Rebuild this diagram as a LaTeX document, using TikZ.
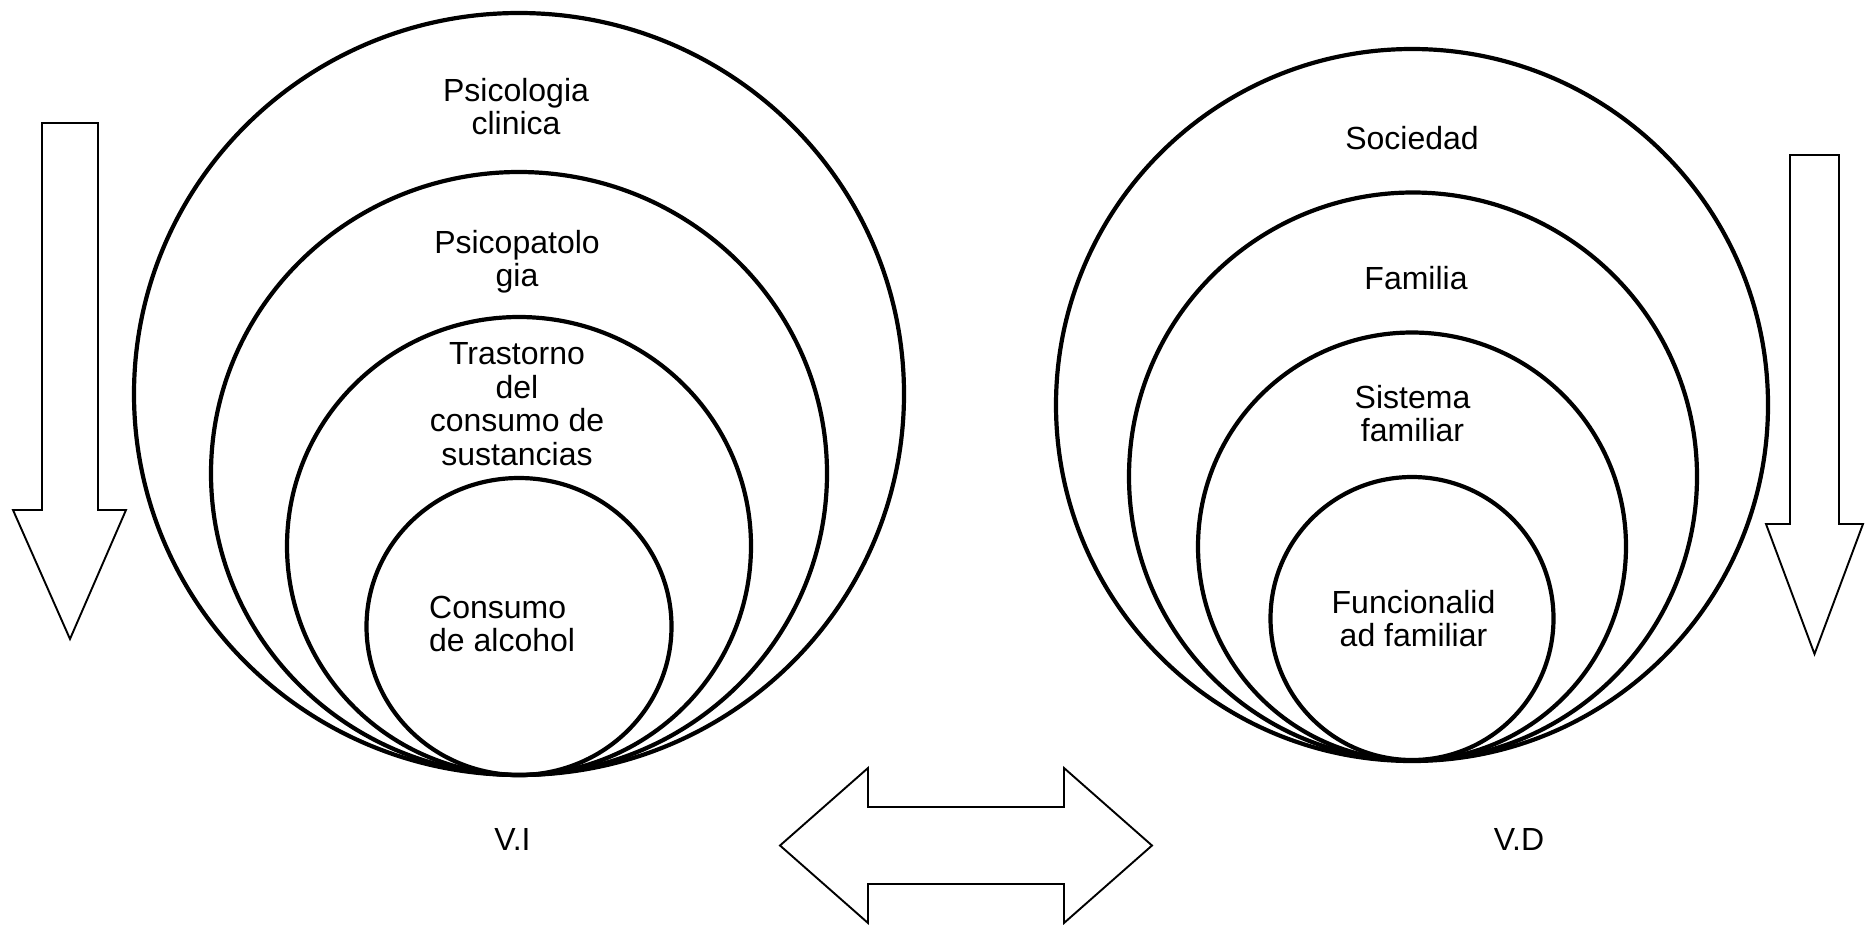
\documentclass[tikz,border=0pt]{standalone}
\usepackage{fontspec}
\setmainfont{Liberation Sans}

\begin{document}
\begin{tikzpicture}[
  x=1pt, y=-1pt,
  ring/.style={line width=4.2pt},
  blockarrow/.style={draw, fill=white, line width=1.9pt, line join=miter},
  lbl/.style={font=\fontsize{32}{33.5}\selectfont, align=center, inner sep=0pt}
  ]
  \useasboundingbox (0,0) rectangle (1869,924);

  % V.I circles, all touching at the bottom
  \draw[ring] (519,394)   ellipse [x radius=385pt, y radius=381pt];
  \draw[ring] (519,473.5) ellipse [x radius=308pt, y radius=301.5pt];
  \draw[ring] (519,546)   ellipse [x radius=232pt, y radius=229pt];
  \draw[ring] (519,626.5) ellipse [x radius=152.5pt, y radius=148.5pt];

  \node (psico)     [lbl] at (516,106.5) {Psicologia\\clinica};
  \node (psicopat)  [lbl] at (517,261.5) {Psicopatolo\\gia};
  \node (trastorno) [lbl] at (517,404)   {Trastorno\\del\\consumo de\\sustancias};
  \node (consumo)   [lbl, align=left, anchor=west] at (429,624) {Consumo\\de alcohol};

  % V.D circles
  \draw[ring] (1412,405)   circle [radius=356pt];
  \draw[ring] (1413,476.5) circle [radius=284pt];
  \draw[ring] (1412,546.5) circle [radius=214pt];
  \draw[ring] (1412,618.5) circle [radius=141.5pt];

  \node (sociedad)  [lbl] at (1412,138)    {Sociedad};
  \node (familia)   [lbl] at (1416,278)    {Familia};
  \node (sistema)   [lbl] at (1412.5,413.5) {Sistema\\familiar};
  \node (funcional) [lbl] at (1413.5,618.5) {Funcionalid\\ad familiar};

  \node (vi) [lbl] at (512.5,839) {V.I};
  \node (vd) [lbl] at (1519,839)  {V.D};

  % block arrows
  \draw[blockarrow] (42,123) -- (98,123) -- (98,510) -- (126,510) -- (70,639)
    -- (13,510) -- (42,510) -- cycle;
  \draw[blockarrow] (1790,155) -- (1839,155) -- (1839,524) -- (1863,524)
    -- (1814.5,654) -- (1766,524) -- (1790,524) -- cycle;
  \draw[blockarrow] (780,845.5) -- (868,768) -- (868,807) -- (1064,807)
    -- (1064,768) -- (1152,845.5) -- (1064,923) -- (1064,884) -- (868,884)
    -- (868,923) -- cycle;
\end{tikzpicture}
\end{document}
